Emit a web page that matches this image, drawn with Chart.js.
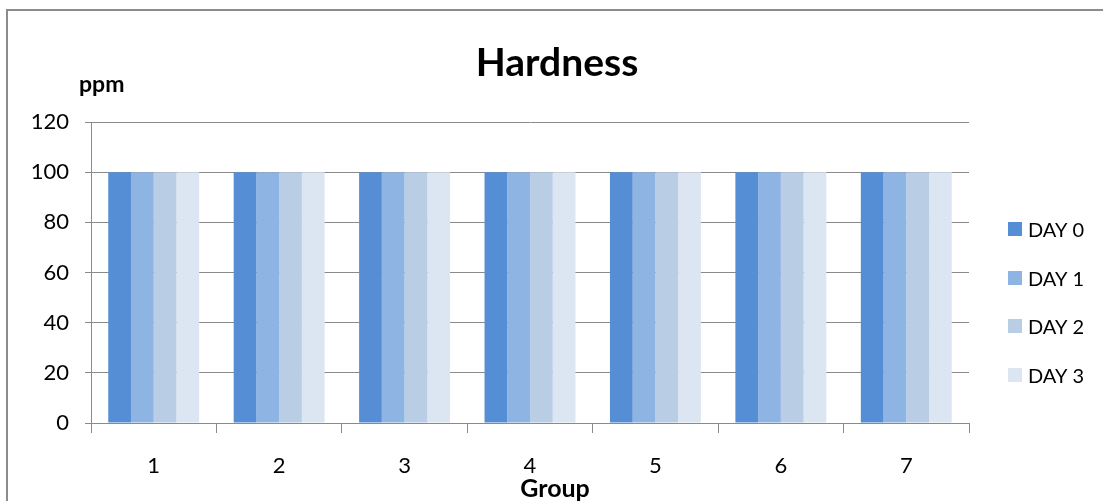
<!DOCTYPE html>
<html>
<head>
<meta charset="utf-8">
<title>Hardness</title>
<script src="https://cdn.jsdelivr.net/npm/chart.js@4.4.1/dist/chart.umd.min.js"></script>
<style>
  html, body { margin: 0; padding: 0; background: #ffffff; }
  #wrap { position: relative; width: 1103px; height: 501px; }
</style>
</head>
<body>
<div id="wrap"><canvas id="c" width="1103" height="501"></canvas></div>
<script>
// Hardness (ppm) per group, measured on days 0 to 3
const groups = ['1', '2', '3', '4', '5', '6', '7'];
const day0 = [100, 100, 100, 100, 100, 100, 100];
const day1 = [100, 100, 100, 100, 100, 100, 100];
const day2 = [100, 100, 100, 100, 100, 100, 100];
const day3 = [100, 100, 100, 100, 100, 100, 100];
const seriesNames = ['DAY 0', 'DAY 1', 'DAY 2', 'DAY 3'];
const seriesColors = ['#558ed5', '#8eb4e3', '#b9cde5', '#dce6f2'];
const yMin = 0, yMax = 120, yStep = 20;

const FONT = "Lato, 'Open Sans', sans-serif";
const GRID = '#8a8a8a';

// frame, title, unit label, x-axis title and legend
const decorations = {
  id: 'decorations',
  beforeDraw(chart) {
    const ctx = chart.ctx;
    ctx.save();
    ctx.fillStyle = '#ffffff';
    ctx.fillRect(0, 0, chart.width, chart.height);
    ctx.strokeStyle = '#8c8c8c';
    ctx.lineWidth = 2;
    ctx.beginPath();
    ctx.moveTo(7, chart.height);
    ctx.lineTo(7, 10);
    ctx.lineTo(chart.width, 10);
    ctx.stroke();
    ctx.restore();
  },
  afterDraw(chart) {
    const ctx = chart.ctx;
    ctx.save();
    ctx.fillStyle = '#000000';
    ctx.textBaseline = 'alphabetic';

    ctx.font = "bold 39px " + FONT;
    ctx.textAlign = 'center';
    ctx.fillText('Hardness', 557, 76);

    ctx.font = "bold 23px " + FONT;
    ctx.textAlign = 'left';
    ctx.fillText('ppm', 79, 92);

    ctx.font = "bold 25px " + FONT;
    ctx.textAlign = 'center';
    ctx.fillText('Group', 555, 497);

    // legend
    ctx.font = "20px " + FONT;
    ctx.textAlign = 'left';
    const legendY = [229, 278, 326, 375];
    chart.data.datasets.forEach((ds, i) => {
      const cy = legendY[i];
      ctx.fillStyle = ds.backgroundColor;
      ctx.fillRect(1008, cy - 7, 14, 14);
      ctx.fillStyle = '#000000';
      ctx.fillText(ds.label, 1028, cy + 8);
    });
    ctx.restore();
  }
};

const series = [day0, day1, day2, day3];

new Chart(document.getElementById('c'), {
  type: 'bar',
  data: {
    labels: groups,
    datasets: series.map((vals, i) => ({
      label: seriesNames[i],
      data: vals,
      backgroundColor: seriesColors[i],
      borderWidth: 0,
      categoryPercentage: 0.725,
      barPercentage: 1.0
    }))
  },
  options: {
    responsive: false,
    animation: false,
    devicePixelRatio: 1,
    layout: { padding: { left: 1, right: 134, top: 122, bottom: 0 } },
    plugins: {
      legend: { display: false },
      title: { display: false },
      tooltip: { enabled: false }
    },
    scales: {
      x: {
        offset: true,
        afterFit(scale) { scale.height = 78; },
        grid: {
          offset: true,
          drawOnChartArea: false,
          drawTicks: true,
          tickLength: 10,
          color: GRID,
          lineWidth: 1
        },
        border: { display: true, color: GRID, width: 1 },
        ticks: {
          color: '#000000',
          padding: 20,
          maxRotation: 0,
          font: { family: FONT, size: 22 }
        }
      },
      y: {
        min: yMin,
        max: yMax,
        afterFit(scale) { scale.width = 90; },
        grid: {
          drawTicks: true,
          tickLength: 6,
          color: GRID,
          lineWidth: 1
        },
        border: { display: true, color: GRID, width: 1 },
        ticks: {
          stepSize: yStep,
          color: '#000000',
          padding: 16,
          font: { family: FONT, size: 22 }
        }
      }
    }
  },
  plugins: [decorations]
});
</script>
</body>
</html>
